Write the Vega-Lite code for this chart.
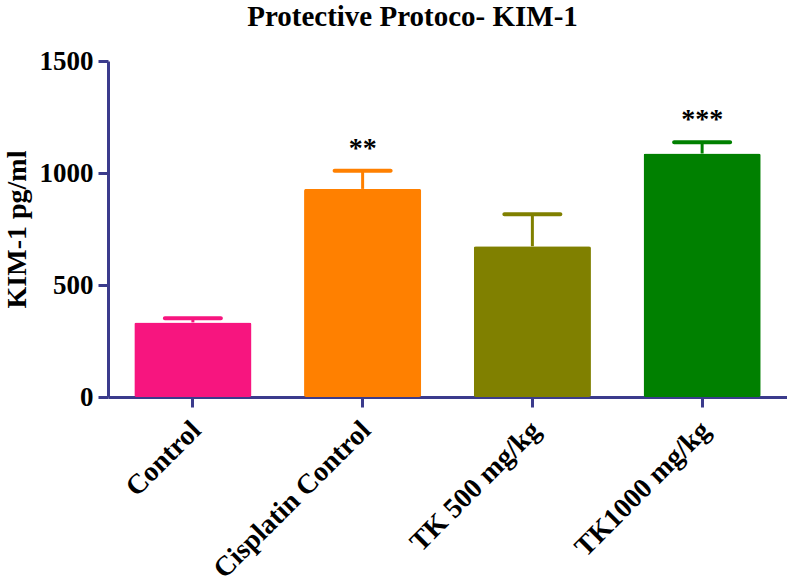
{
  "$schema": "https://vega.github.io/schema/vega-lite/v6.json",
  "width": 679,
  "height": 336,
  "autosize": "none",
  "padding": {"left": 108, "top": 61, "right": 0, "bottom": 180},
  "background": "white",
  "title": {
    "text": "Protective Protoco- KIM-1",
    "font": "Liberation Serif",
    "fontSize": 29,
    "fontWeight": "bold",
    "color": "black",
    "anchor": "middle",
    "frame": "group",
    "dx": -35,
    "offset": 15
  },
  "data": {
    "values": [
      {"group": "Control", "mean": 333, "upper": 352, "sig": ""},
      {"group": "Cisplatin Control", "mean": 929, "upper": 1010, "sig": "**"},
      {"group": "TK 500 mg/kg", "mean": 673, "upper": 816, "sig": ""},
      {"group": "TK1000 mg/kg", "mean": 1087, "upper": 1137, "sig": "***"}
    ]
  },
  "config": {
    "view": {"stroke": null},
    "axis": {
      "domainColor": "#3b3b8c",
      "domainWidth": 3,
      "tickColor": "#3b3b8c",
      "tickWidth": 3,
      "labelFont": "Liberation Serif",
      "labelFontWeight": "bold",
      "labelColor": "black",
      "titleFont": "Liberation Serif",
      "titleFontWeight": "bold",
      "titleColor": "black",
      "grid": false
    }
  },
  "encoding": {
    "x": {
      "field": "group",
      "type": "nominal",
      "sort": null,
      "scale": {"paddingInner": 0.31, "paddingOuter": 0.155},
      "axis": {
        "title": null,
        "labelAngle": -45,
        "labelFontSize": 28,
        "tickSize": 10,
        "labelPadding": 9,
        "labelOffset": -6,
        "labelLimit": 400
      }
    }
  },
  "layer": [
    {
      "mark": {"type": "bar", "cornerRadius": 2},
      "encoding": {
        "y": {
          "field": "mean",
          "type": "quantitative",
          "scale": {"domain": [0, 1500], "nice": false},
          "axis": {
            "title": "KIM-1 pg/ml",
            "titleFontSize": 28,
            "titlePadding": 8,
            "values": [0, 500, 1000, 1500],
            "format": "d",
            "labelFontSize": 27,
            "tickSize": 10,
            "labelPadding": 5
          }
        },
        "color": {
          "field": "group",
          "type": "nominal",
          "sort": null,
          "scale": {
            "domain": ["Control", "Cisplatin Control", "TK 500 mg/kg", "TK1000 mg/kg"],
            "range": ["#f7157f", "#ff8000", "#808000", "#008000"]
          },
          "legend": null
        }
      }
    },
    {
      "mark": {"type": "rule", "strokeWidth": 3},
      "encoding": {
        "y": {"field": "mean", "type": "quantitative"},
        "y2": {"field": "upper"},
        "color": {"field": "group", "type": "nominal", "sort": null, "legend": null}
      }
    },
    {
      "mark": {"type": "tick", "size": 60, "thickness": 4, "cornerRadius": 2, "opacity": 1},
      "encoding": {
        "y": {"field": "upper", "type": "quantitative"},
        "color": {"field": "group", "type": "nominal", "sort": null, "legend": null}
      }
    },
    {
      "mark": {"type": "text", "font": "Liberation Serif", "fontSize": 28, "fontWeight": "bold", "dy": -22, "color": "black", "baseline": "middle"},
      "encoding": {
        "y": {"field": "upper", "type": "quantitative"},
        "text": {"field": "sig"}
      }
    }
  ]
}
